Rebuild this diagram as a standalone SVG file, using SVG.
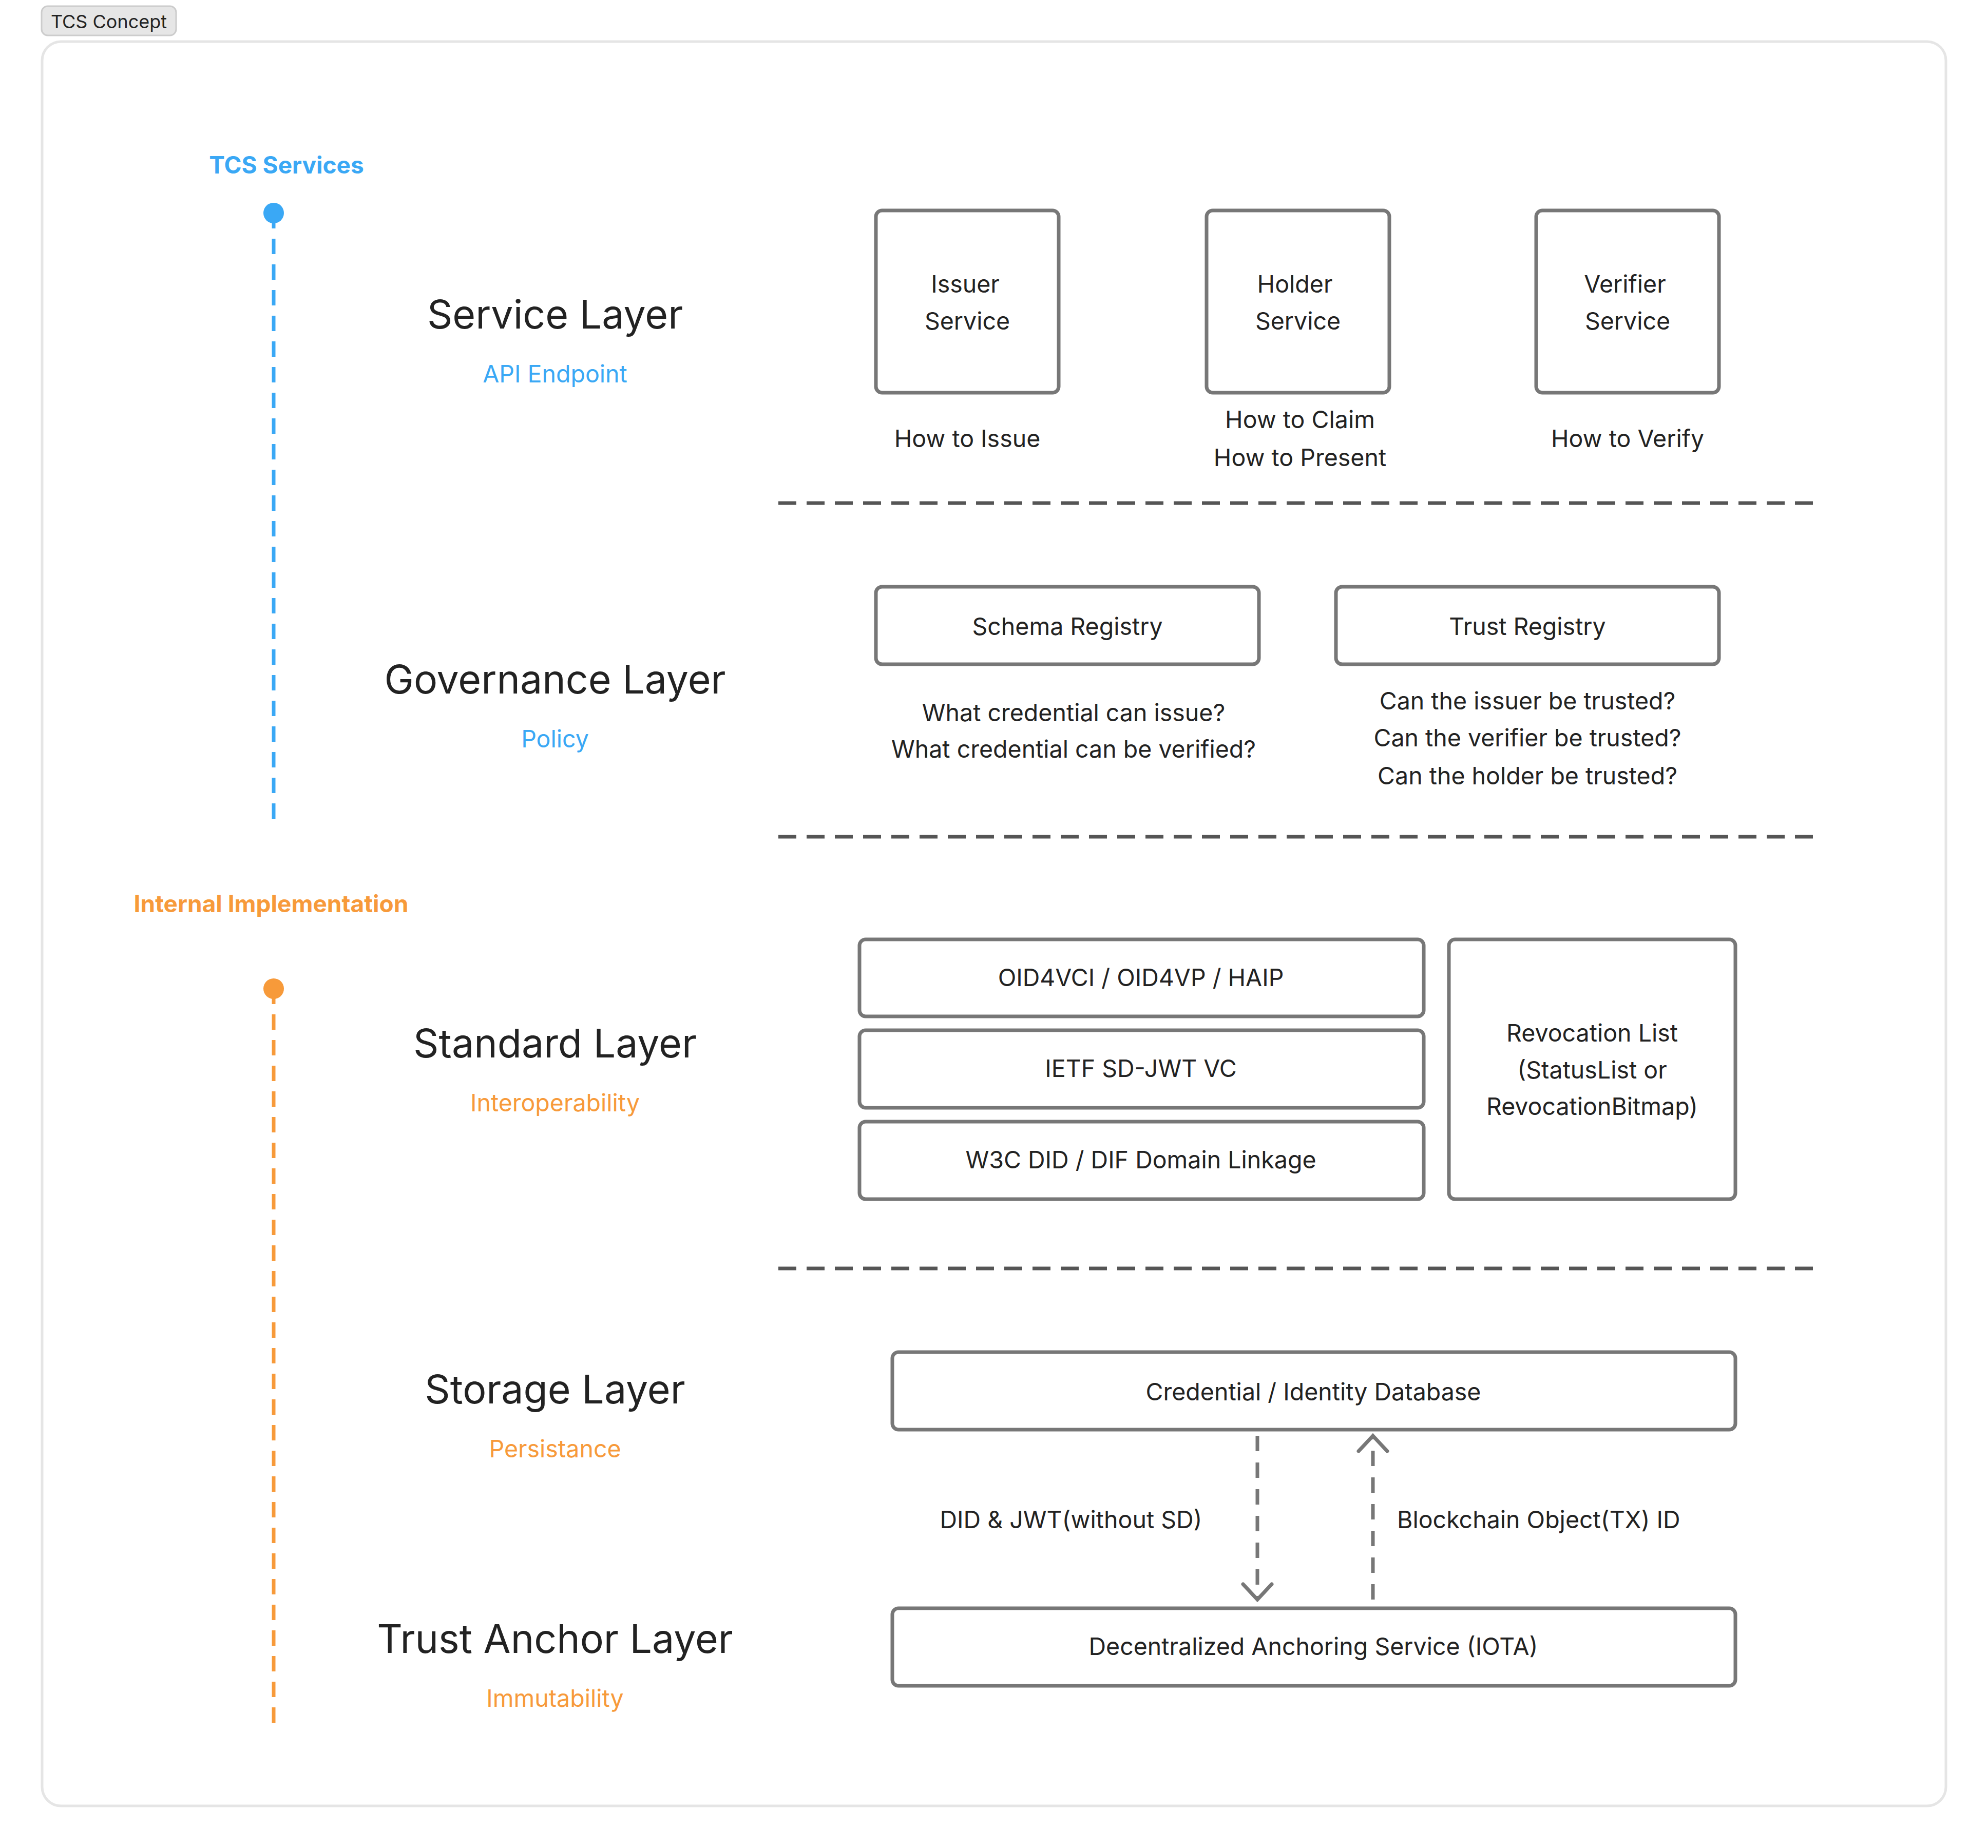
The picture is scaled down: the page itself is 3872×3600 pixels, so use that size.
<svg xmlns="http://www.w3.org/2000/svg" width="3872" height="3600" viewBox="0 0 3872 3600">
<style>
text{font-family:Inter,"Noto Sans",sans-serif;fill:#222;text-anchor:middle;dominant-baseline:central}
.box{fill:#fff;stroke:#777;stroke-width:7}
.t{font-size:46.5px}
.layer{font-size:77px}
.blue{fill:#3aa8f5}
.org{fill:#f79a3a}
.sep{stroke:#555;stroke-width:7;stroke-dasharray:35 20}
.arr{stroke:#777;stroke-width:7;stroke-dasharray:30 22;fill:none}
.head{fill:none;stroke:#777;stroke-width:7;stroke-linecap:round}
</style>
<rect x="0" y="0" width="3872" height="3600" fill="#fff"/>
<g id="tag"><rect x="81" y="12" width="262" height="57" rx="12" fill="#e6e6e6" stroke="#ccc" stroke-width="3"/><text x="212" y="42" font-size="36">TCS Concept</text></g>
<rect id="frame" x="82" y="81" width="3708" height="3437" rx="37" fill="none" stroke="#e5e5e5" stroke-width="5"/>
<g id="timeline">
<text x="558" y="321" class="blue" font-size="46" font-weight="bold">TCS Services</text>
<circle cx="533" cy="415" r="20" fill="#3aa8f5"/>
<line x1="533" y1="415" x2="533" y2="1600" stroke="#3aa8f5" stroke-width="7" stroke-dasharray="30 20"/>
<text x="528" y="1760" class="org" font-size="46" font-weight="bold">Internal Implementation</text>
<circle cx="533" cy="1926" r="20" fill="#f79a3a"/>
<line x1="533" y1="1926" x2="533" y2="3363" stroke="#f79a3a" stroke-width="7" stroke-dasharray="30 20"/>
</g>
<g id="layers">
<text x="1081" y="612" class="layer">Service Layer</text><text x="1081" y="728" class="t blue">API Endpoint</text>
<text x="1081" y="1323" class="layer">Governance Layer</text><text x="1081" y="1439" class="t blue">Policy</text>
<text x="1081" y="2032" class="layer">Standard Layer</text><text x="1081" y="2148" class="t org">Interoperability</text>
<text x="1081" y="2706" class="layer">Storage Layer</text><text x="1081" y="2822" class="t org">Persistance</text>
<text x="1081" y="3192" class="layer">Trust Anchor Layer</text><text x="1081" y="3308" class="t org">Immutability</text>
</g>
<g id="separators">
<line x1="1516" y1="980" x2="3550" y2="980" class="sep"/>
<line x1="1516" y1="1630" x2="3550" y2="1630" class="sep"/>
<line x1="1516" y1="2471" x2="3550" y2="2471" class="sep"/>
</g>
<g id="issuer"><rect x="1706" y="410" width="356" height="355" rx="12" class="box"/><text x="1880" y="553" class="t">Issuer</text><text x="1884" y="625" class="t">Service</text><text x="1884" y="854" class="t">How to Issue</text></g>
<g id="holder"><rect x="2350" y="410" width="356" height="355" rx="12" class="box"/><text x="2522" y="553" class="t">Holder</text><text x="2528" y="625" class="t">Service</text><text x="2532" y="817" class="t">How to Claim</text><text x="2532" y="891" class="t">How to Present</text></g>
<g id="verifier"><rect x="2992" y="410" width="356" height="355" rx="12" class="box"/><text x="3165" y="553" class="t">Verifier</text><text x="3170" y="625" class="t">Service</text><text x="3170" y="854" class="t">How to Verify</text></g>
<g id="schema"><rect x="1706" y="1143" width="746" height="151" rx="12" class="box"/><text x="2079" y="1220" class="t">Schema Registry</text><text x="2091" y="1388" class="t">What credential can issue?</text><text x="2091" y="1459" class="t">What credential can be verified?</text></g>
<g id="trust"><rect x="2602" y="1143" width="746" height="151" rx="12" class="box"/><text x="2975" y="1220" class="t">Trust Registry</text><text x="2975" y="1365" class="t">Can the issuer be trusted?</text><text x="2975" y="1437" class="t">Can the verifier be trusted?</text><text x="2975" y="1511" class="t">Can the holder be trusted?</text></g>
<g id="oid"><rect x="1674" y="1830" width="1099" height="150" rx="12" class="box"/><text x="2222" y="1904" class="t">OID4VCI / OID4VP / HAIP</text></g>
<g id="ietf"><rect x="1674" y="2007" width="1099" height="151" rx="12" class="box"/><text x="2222" y="2081" class="t">IETF SD-JWT VC</text></g>
<g id="w3c"><rect x="1674" y="2185" width="1099" height="151" rx="12" class="box"/><text x="2222" y="2259" class="t">W3C DID / DIF Domain Linkage</text></g>
<g id="revocation"><rect x="2822" y="1830" width="558" height="506" rx="12" class="box"/><text x="3101" y="2012" class="t">Revocation List</text><text x="3101" y="2084" class="t">(StatusList or</text><text x="3101" y="2155" class="t">RevocationBitmap)</text></g>
<g id="db"><rect x="1738" y="2634" width="1642" height="151" rx="12" class="box"/><text x="2558" y="2711" class="t">Credential / Identity Database</text></g>
<g id="anchor"><rect x="1738" y="3133" width="1642" height="151" rx="12" class="box"/><text x="2558" y="3207" class="t">Decentralized Anchoring Service (IOTA)</text></g>
<g id="connectors">
<line x1="2449" y1="2797" x2="2449" y2="3114" class="arr"/>
<polyline points="2421,3086 2449,3116 2477,3086" class="head"/>
<line x1="2674" y1="3116" x2="2674" y2="2800" class="arr"/>
<polyline points="2646,2827 2674,2797 2702,2827" class="head"/>
<text x="2086" y="2960" class="t">DID &amp; JWT(without SD)</text>
<text x="2721" y="2960" class="t" style="text-anchor:start">Blockchain Object(TX) ID</text>
</g>
</svg>
